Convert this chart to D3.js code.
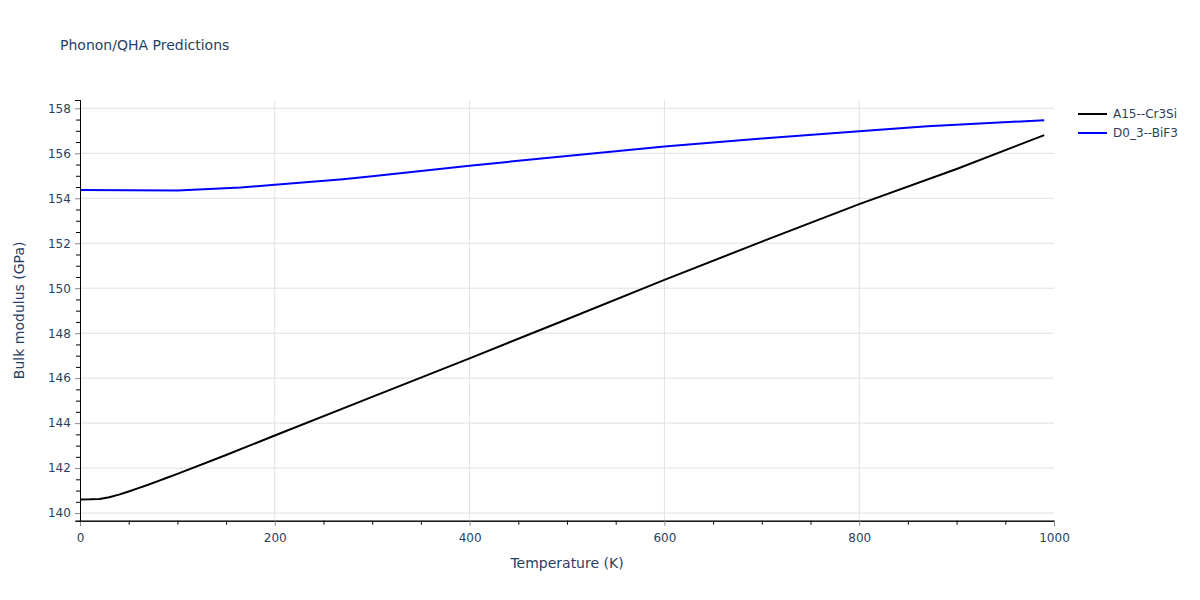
<!DOCTYPE html>
<html><head><meta charset="utf-8">
<script src="https://cdn.jsdelivr.net/npm/d3@7"></script>
<style>body{margin:0;background:#fff;} text{font-family:"DejaVu Sans",verdana,arial,sans-serif;}</style>
</head><body><svg id="c" width="1200" height="600"></svg>
<script>
const seriesNames = ["A15--Cr3Si", "D0_3--BiF3"];
const seriesColors = ["#000000", "#0000ff"];
const tempA = [0,10,20,30,40,50,60,70,80,90,100,150,200,300,400,500,600,700,800,900,990];
const bulkA = [140.6,140.61,140.63,140.7,140.82,140.96,141.11,141.26,141.42,141.58,141.74,142.58,143.45,145.17,146.88,148.62,150.37,152.07,153.74,155.3,156.81];
const tempB = [0,50,100,165,200,270,300,400,500,600,700,800,870,990];
const bulkB = [154.37,154.36,154.35,154.48,154.6,154.85,154.98,155.45,155.88,156.3,156.66,156.98,157.2,157.47];
const xTicks = [0,200,400,600,800,1000];
const yTicks = [140,142,144,146,148,150,152,154,156,158];

const svg = d3.select("#c");
const L=80, R=1054, T=100, B=520.7;
const x = d3.scaleLinear().domain([0,1000]).range([L,R]);
const y = d3.scaleLinear().domain([139.66,158.37]).range([B,T]);
const txtCol = "#2a3f5f";

// gridlines
svg.append("g").selectAll("line").data(yTicks).join("line")
  .attr("x1",L).attr("x2",R).attr("y1",d=>y(d)).attr("y2",d=>y(d))
  .attr("stroke","#e0e0e0").attr("stroke-width",1);
svg.append("g").selectAll("line").data(xTicks.filter(d=>d>0&&d<1000)).join("line")
  .attr("y1",T).attr("y2",B).attr("x1",d=>x(d)).attr("x2",d=>x(d))
  .attr("stroke","#e0e0e0").attr("stroke-width",1);

// lines
const line = d3.line().x(d=>x(d[0])).y(d=>y(d[1]));
const data = [d3.zip(tempA,bulkA), d3.zip(tempB,bulkB)];
data.forEach((dd,i)=>{
  svg.append("path").datum(dd).attr("d",line).attr("fill","none")
    .attr("stroke",seriesColors[i]).attr("stroke-width",2).attr("stroke-linejoin","round");
});

// axes
const xMinor = d3.range(50,1000,50).filter(v=>v%200!==0);
const xAxis = svg.append("g").attr("transform",`translate(0,${B})`);
xAxis.call(d3.axisBottom(x).tickValues(xMinor).tickSize(4).tickFormat(""));
xAxis.append("g").call(d3.axisBottom(x).tickValues(xTicks).tickSize(5).tickFormat(d3.format("d")));
xAxis.selectAll(".domain").attr("stroke","#000");
xAxis.selectAll("g > g .tick line").attr("stroke","#888");
xAxis.selectAll("text").attr("fill",txtCol).attr("font-size",12).attr("dy","1.1em");

const yMinor = d3.range(140.5,158.4,0.5).filter(v=>Math.abs(v%2)>0.01);
const yAxis = svg.append("g").attr("transform",`translate(${L},0)`);
yAxis.call(d3.axisLeft(y).tickValues(yMinor).tickSize(4).tickFormat(""));
yAxis.append("g").call(d3.axisLeft(y).tickValues(yTicks).tickSize(5).tickFormat(d3.format("d")));
yAxis.selectAll(".domain").attr("stroke","#000");
yAxis.selectAll("g > g .tick line").attr("stroke","#888");
yAxis.selectAll("text").attr("fill",txtCol).attr("font-size",12).attr("dx","-0.1em");

// titles
svg.append("text").attr("x",60).attr("y",50).attr("fill",txtCol).attr("font-size",14).text("Phonon/QHA Predictions");
svg.append("text").attr("x",(L+R)/2).attr("y",568).attr("text-anchor","middle").attr("fill",txtCol).attr("font-size",14).text("Temperature (K)");
svg.append("text").attr("transform",`translate(24,${(T+B)/2}) rotate(-90)`).attr("text-anchor","middle").attr("fill",txtCol).attr("font-size",14).text("Bulk modulus (GPa)");

// legend
seriesNames.forEach((n,i)=>{
  const ly = 114 + i*19;
  svg.append("line").attr("x1",1078).attr("x2",1107).attr("y1",ly).attr("y2",ly).attr("stroke",seriesColors[i]).attr("stroke-width",2);
  svg.append("text").attr("x",1113).attr("y",ly+4).attr("fill",txtCol).attr("font-size",12).text(n);
});
</script></body></html>
